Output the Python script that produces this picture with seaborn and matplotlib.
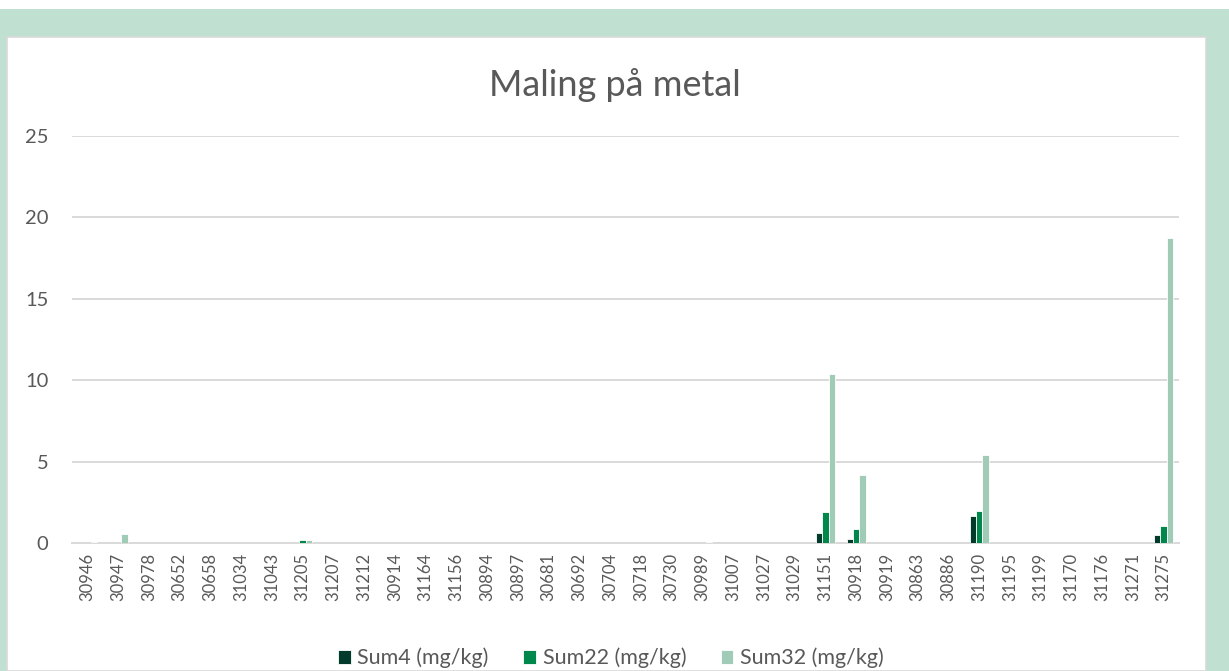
import pandas as pd
import seaborn as sns
import matplotlib.pyplot as plt
from matplotlib.patches import Rectangle

# sample ids (x-axis) and the three series, values in mg/kg
samples = ["30946", "30947", "30978", "30652", "30658", "31034", "31043", "31205",
           "31207", "31212", "30914", "31164", "31156", "30894", "30897", "30681",
           "30692", "30704", "30718", "30730", "30989", "31007", "31027", "31029",
           "31151", "30918", "30919", "30863", "30886", "31190", "31195", "31199",
           "31170", "31176", "31271", "31275"]

sum4 = [0, 0, 0, 0, 0, 0, 0, 0, 0, 0, 0, 0, 0, 0, 0, 0, 0, 0,
        0, 0, 0, 0, 0, 0, 0.62, 0.25, 0, 0, 0, 1.68, 0, 0, 0, 0, 0, 0.52]
sum22 = [0, 0, 0, 0, 0, 0, 0, 0.2, 0, 0, 0, 0, 0, 0, 0, 0, 0, 0,
         0, 0, 0, 0, 0, 0, 1.88, 0.84, 0, 0, 0, 1.98, 0, 0, 0, 0, 0, 1.02]
sum32 = [0.06, 0.58, 0, 0, 0, 0, 0, 0.16, 0, 0, 0, 0, 0, 0, 0, 0, 0, 0,
         0, 0, 0.05, 0, 0, 0, 10.38, 4.16, 0, 0, 0, 5.4, 0, 0, 0, 0, 0, 18.75]

series = ["Sum4 (mg/kg)", "Sum22 (mg/kg)", "Sum32 (mg/kg)"]
colors = ["#023B2B", "#00874B", "#A0CBB6"]

df = pd.DataFrame({"sample": samples, series[0]: sum4, series[1]: sum22, series[2]: sum32})
long_df = df.melt(id_vars="sample", var_name="serie", value_name="value")

sns.set_theme(style="white")
plt.rcParams["font.family"] = ["Lato", "DejaVu Sans"]

fig = plt.figure(figsize=(12.29, 6.71), dpi=100)
W, H = 1229, 671
# green frame and white chart panel, like the Excel chart area
fig.patches.append(Rectangle((0, 0), 1, (H - 9) / H, transform=fig.transFigure,
                             facecolor="#C0E1D2", edgecolor="none", zorder=-10))
fig.patches.append(Rectangle((7 / W, 0), 1199 / W, (H - 37) / H, transform=fig.transFigure,
                             facecolor="white", edgecolor="#D9D9D9", linewidth=1.2, zorder=-9))

ax = fig.add_axes([72 / W, 128 / H, 1107 / W, 407 / H])
ax.set_facecolor("none")

sns.barplot(data=long_df, x="sample", y="value", hue="serie", palette=colors,
            saturation=1, width=0.62, edgecolor="white", linewidth=0.6, ax=ax, zorder=3)

ax.set_ylim(0, 25)
ax.set_yticks([0, 5, 10, 15, 20, 25])
ax.yaxis.grid(True, color="#D9D9D9", linewidth=1.4, zorder=0)
ax.set_axisbelow(True)
for side in ["top", "right", "left"]:
    ax.spines[side].set_visible(False)
ax.spines["bottom"].set_color("#D9D9D9")
ax.spines["bottom"].set_linewidth(1.4)
ax.tick_params(axis="both", length=0, colors="#595959")
ax.tick_params(axis="y", pad=17, labelsize=14.5)
ax.tick_params(axis="x", rotation=90, pad=7, labelsize=12)
ax.set_xlabel("")
ax.set_ylabel("")

fig.text(0.5, 1 - 85 / H, "Maling på metal", ha="center", va="center",
         fontsize=26, color="#595959")

handles, labels = ax.get_legend_handles_labels()
ax.get_legend().remove()
fig.legend(handles, labels, loc="center", bbox_to_anchor=(0.497, 13 / H), ncol=3,
           frameon=False, fontsize=15.5, labelcolor="#595959", handlelength=0.6,
           handleheight=0.6, handletextpad=0.3, columnspacing=1.6)

fig.savefig("out.png", dpi=100, facecolor="white")
